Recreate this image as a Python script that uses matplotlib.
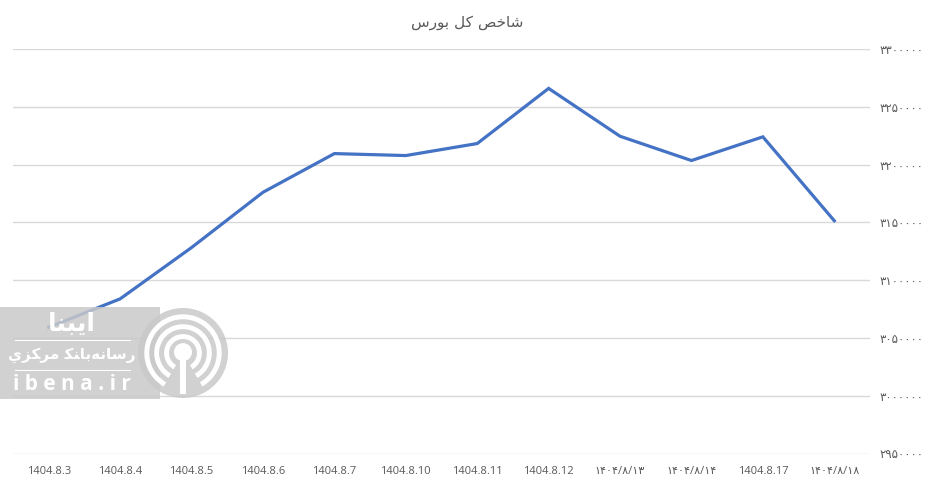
import matplotlib
matplotlib.use("Agg")
import matplotlib.pyplot as plt
from matplotlib.patches import Rectangle, Circle, Wedge

# ---- data ----
dates = ["1404.8.3", "1404.8.4", "1404.8.5", "1404.8.6", "1404.8.7", "1404.8.10",
         "1404.8.11", "1404.8.12", "۱۴۰۴/۸/۱۳", "۱۴۰۴/۸/۱۴", "1404.8.17", "۱۴۰۴/۸/۱۸"]
index_values = [3059200, 3083800, 3128200, 3176000, 3209500, 3207800,
                3218200, 3265900, 3224500, 3203500, 3224000, 3151400]
y_ticks = [2950000, 3000000, 3050000, 3100000, 3150000, 3200000, 3250000, 3300000]
# Persian-digit labels for y ticks
fa_digits = str.maketrans("0123456789", "۰۱۲۳۴۵۶۷۸۹")
y_labels = [str(v).translate(fa_digits) for v in y_ticks]
# title "شاخص کل بورس" in visual (shaped, left-to-right) order
title_text = "\uFEB1\uFEAD\uFEEE\uFE91 \uFEDE\uFB90 \uFEBA\uFEA7\uFE8E\uFEB7"

W, H = 933, 484
fig = plt.figure(figsize=(W / 100, H / 100), dpi=100)
fig.patch.set_facecolor("white")

ax = fig.add_axes([13 / W, 1 - 453.5 / H, (870 - 13) / W, (453.5 - 49) / H])
x = list(range(len(dates)))
ax.plot(x, index_values, color="#4472C4", linewidth=2.3, solid_joinstyle="miter", zorder=3)

ax.set_xlim(-0.5, len(dates) - 0.5)
ax.set_ylim(y_ticks[0], y_ticks[-1])
ax.set_yticks(y_ticks)
ax.yaxis.tick_right()
ax.set_yticklabels(y_labels, family=["DejaVu Sans"], fontsize=8.5, color="#595959")
ax.set_xticks(x)
ax.set_xticklabels(dates, family=["Open Sans", "DejaVu Sans"], fontsize=8, color="#595959")
ax.tick_params(axis="both", length=0)
ax.tick_params(axis="x", pad=9)
ax.tick_params(axis="y", pad=7)
ax.grid(axis="y", color="#D9D9D9", linewidth=1.0, zorder=0)
for s in ax.spines.values():
    s.set_visible(False)

fig.text(467 / W, 1 - 22 / H, title_text, family=["DejaVu Sans"], fontsize=11,
         color="#595959", ha="center", va="center")

# ---- watermark (approximation) ----
wm = "#c9c9c9"
fig.patches.append(Rectangle((0, 1 - 399 / H), 160 / W, 92 / H, transform=fig.transFigure,
                             facecolor=wm, edgecolor="none", alpha=0.85, zorder=5))
cx, cy, r = 183, 353, 45
ax_wm = fig.add_axes([(cx - r) / W, 1 - (cy + r) / H, 2 * r / W, 2 * r / H], zorder=6)
ax_wm.set_xlim(-1, 1); ax_wm.set_ylim(-1, 1); ax_wm.axis("off")
ax_wm.patch.set_alpha(0)
ax_wm.add_patch(Circle((0, 0), 1.0, facecolor=wm, edgecolor="none", alpha=0.85))
for rr in [0.86, 0.64, 0.42]:
    ax_wm.add_patch(Wedge((0, 0), rr, -60, 240, width=0.11, facecolor="white", edgecolor="none"))
ax_wm.add_patch(Circle((0, 0.02), 0.2, facecolor="white", edgecolor="none"))
ax_wm.add_patch(Rectangle((-0.06, -0.9), 0.12, 0.85, facecolor="white", edgecolor="none"))
fig.text(72 / W, 1 - 384 / H, "i b e n a . i r", family=["Open Sans"], fontsize=15,
         fontweight="bold", color="white", ha="center", va="center", zorder=7)
fig.text(72 / W, 1 - 355 / H, "\uFEF1\uFEB0\uFEDC\uFEAE\uFEE3 \uFEDC\uFEE8\uFE8E\uFE91\uFEEA\uFEE7\uFE8E\uFEB3\uFEAD",
         family=["DejaVu Sans"], fontsize=11, fontweight="bold", color="white",
         ha="center", va="center", zorder=7)
fig.text(72 / W, 1 - 324 / H, "\uFE8E\uFEE8\uFE92\uFBFE\uFE8D", family=["DejaVu Sans"],
         fontsize=18, fontweight="bold", color="white", ha="center", va="center", zorder=7)
for yy in [340, 370]:
    fig.lines.append(plt.Line2D([15 / W, 130 / W], [1 - yy / H, 1 - yy / H],
                                transform=fig.transFigure, color="white", linewidth=0.8, zorder=7))

fig.savefig("out.png", dpi=100)
